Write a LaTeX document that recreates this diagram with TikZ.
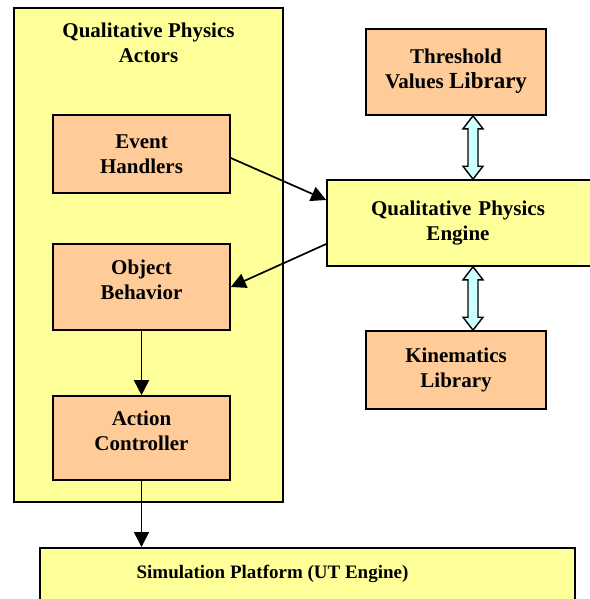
\documentclass[tikz,border=0pt]{standalone}
\usepackage{fontspec}
\setmainfont{Liberation Serif}
\usetikzlibrary{arrows.meta,calc}
\definecolor{ylw}{HTML}{FFFF99}
\definecolor{org}{HTML}{FFCC99}
\definecolor{cyn}{HTML}{CCFFFF}
\tikzset{
	box/.style={draw,line width=1.6pt,rectangle,align=center,inner sep=0pt,
		font=\fontsize{21}{25}\selectfont\bfseries},
	ybox/.style={box,fill=ylw},
	obox/.style={box,fill=org},
	fat/.style={draw,line width=1.4pt,fill=cyn,line join=miter},
}
\newcommand{\fatarrow}[2]{%
	\draw[fat] let \p1=(#1), \p2=(#2) in
	(\p1) -- (\x1+10pt,\y1-13pt) -- (\x1+5pt,\y1-13pt) -- (\x1+5pt,\y2+13pt)
	-- (\x1+10pt,\y2+13pt) -- (\x1,\y2) -- (\x1-10pt,\y2+13pt) -- (\x1-5pt,\y2+13pt)
	-- (\x1-5pt,\y1-13pt) -- (\x1-10pt,\y1-13pt) -- cycle;}
\begin{document}
\begin{tikzpicture}[x=1pt,y=1pt,>={Triangle[length=15pt,width=15pt]},line width=1.7pt]
	\useasboundingbox (0,0) rectangle (589,-599);
	% left column
	\node[ybox,minimum width=269pt,minimum height=494pt] (actors) at (148.5,-255) {};
	\node[font=\fontsize{21}{25}\selectfont\bfseries,align=center] (title) at (148.5,-43) {Qualitative Physics\\Actors};
	\node[obox,minimum width=177pt,minimum height=78pt] (event) at (141.5,-154) {Event\\Handlers};
	\node[obox,minimum width=177pt,minimum height=86pt] (object) at (141.5,-287) {Object\\Behavior\\[-10pt]};
	\node[obox,minimum width=177pt,minimum height=84pt] (action) at (141.5,-438) {Action\\Controller\\[-10pt]};
	% right column
	\node[obox,minimum width=180pt,minimum height=86pt] (thresh) at (456,-72) {Threshold\\Values {\fontsize{23}{25}\selectfont Library}\\[-19pt]};
	\node[ybox,minimum width=280pt,minimum height=86pt,text width=262pt] (engine) at (467,-223) {\hspace*{-18pt}Qualitative Physics\\\hspace*{-18pt}Engine\\[-19pt]};
	\node[obox,minimum width=180pt,minimum height=78pt] (kin) at (456,-370) {Kinematics\\Library};
	% platform
	\node[box,fill=ylw,align=none,font=\fontsize{19}{22}\selectfont\bfseries,minimum width=535pt,
		text height=26pt,text depth=30pt,inner ysep=5pt,anchor=north] (sim) at (307.5,-547) {Simulation Platform (UT Engine)\hspace*{70pt}};
	% connectors
	\draw[->] ([yshift=-4pt]event.east) -- ([yshift=23pt]engine.west);
	\draw[->] ([yshift=-21pt]engine.west) -- (object.east);
	\draw[->] (object.south) -- (action.north);
	\draw[->] (action.south) -- (sim.north -| action.south);
	\fatarrow{[xshift=17pt]thresh.south}{[xshift=17pt]thresh.south |- engine.north}
	\fatarrow{[xshift=17pt]kin.north |- engine.south}{[xshift=17pt]kin.north}
\end{tikzpicture}
\end{document}
